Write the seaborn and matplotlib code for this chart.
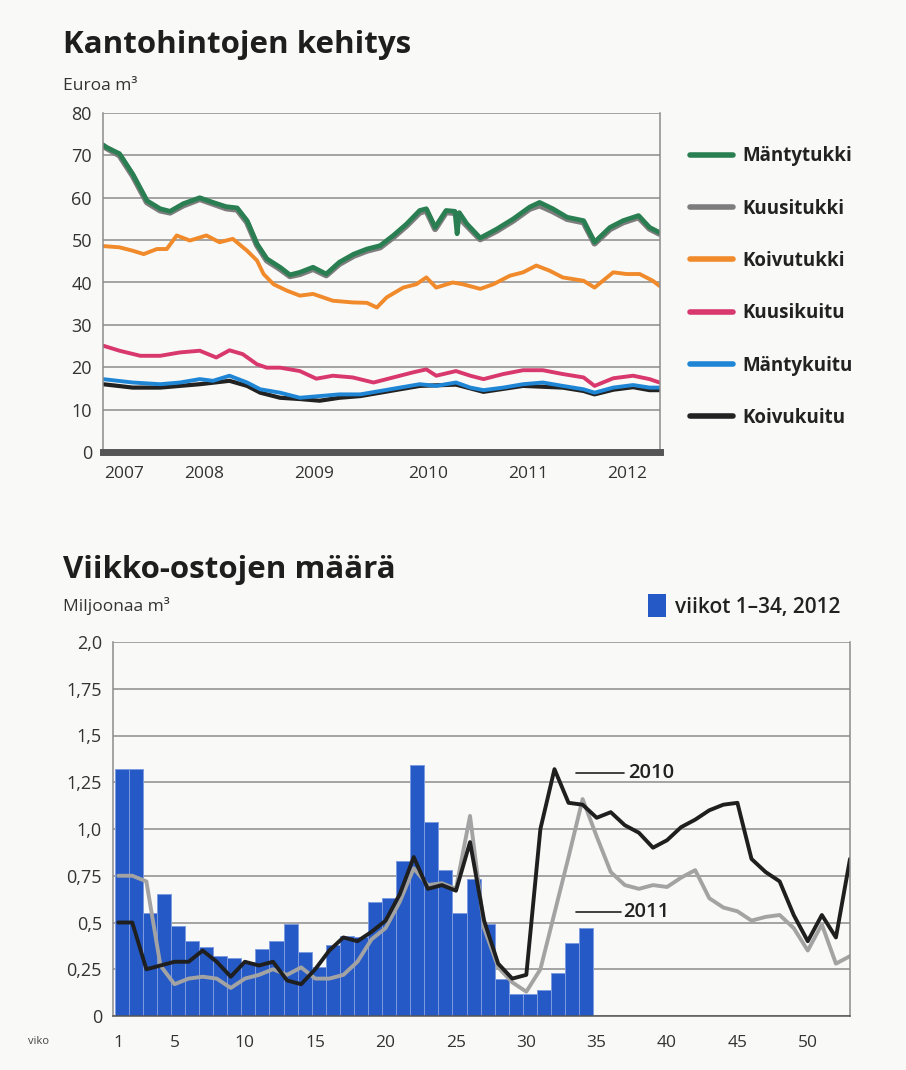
import numpy as np
import pandas as pd
import matplotlib
matplotlib.use('Agg')
import matplotlib.pyplot as plt
import seaborn as sns
from matplotlib.lines import Line2D
from matplotlib.patches import Patch

# --- Kantohintojen kehitys (euroa / m3), luettu kuvasta ---
mt_x = [2007.61, 2007.64, 2007.76, 2007.88, 2008.01, 2008.13, 2008.22, 2008.34, 2008.49, 2008.61,
        2008.73, 2008.83, 2008.92, 2009.01, 2009.10, 2009.22, 2009.31, 2009.40, 2009.52, 2009.64,
        2009.76, 2009.89, 2010.01, 2010.13, 2010.25, 2010.37, 2010.49, 2010.55, 2010.63, 2010.73,
        2010.81, 2010.83, 2010.85, 2010.92, 2011.04, 2011.19, 2011.34, 2011.49, 2011.58, 2011.70,
        2011.83, 2011.98, 2012.08, 2012.22, 2012.34, 2012.48, 2012.58, 2012.67]
mantytukki = [72.5, 71.9, 70.4, 65.6, 59.3, 57.4, 56.8, 58.6, 60.0, 58.9,
              57.9, 57.6, 54.6, 49.1, 45.6, 43.6, 41.8, 42.4, 43.6, 42.0,
              44.8, 46.7, 47.9, 48.7, 51.1, 53.8, 57.0, 57.4, 53.0, 57.0,
              56.8, 51.5, 56.5, 53.8, 50.5, 52.6, 55.0, 57.8, 58.9, 57.4,
              55.4, 54.6, 49.5, 53.0, 54.6, 55.8, 53.0, 51.8]

kt_x = [2007.61, 2007.76, 2007.88, 2008.01, 2008.13, 2008.22, 2008.34, 2008.49, 2008.61, 2008.73,
        2008.83, 2008.92, 2009.01, 2009.10, 2009.22, 2009.31, 2009.40, 2009.52, 2009.64, 2009.76,
        2009.89, 2010.01, 2010.13, 2010.25, 2010.37, 2010.49, 2010.55, 2010.63, 2010.73, 2010.81,
        2010.92, 2011.04, 2011.19, 2011.34, 2011.49, 2011.58, 2011.70, 2011.83, 2011.98, 2012.08,
        2012.22, 2012.34, 2012.48, 2012.58, 2012.67]
kuusitukki = [72.2, 70.0, 65.2, 58.9, 57.0, 56.5, 58.2, 59.7, 58.6, 57.5,
              57.2, 54.2, 48.8, 45.2, 43.2, 41.5, 42.0, 43.2, 41.7, 44.4,
              46.3, 47.5, 48.3, 50.7, 53.4, 56.5, 57.0, 52.6, 56.6, 56.4,
              53.4, 50.2, 52.2, 54.6, 57.4, 58.2, 56.8, 55.0, 54.2, 49.2,
              52.6, 54.2, 55.4, 52.7, 51.5]

ko_x = [2007.61, 2007.76, 2007.88, 2007.98, 2008.10, 2008.19, 2008.28, 2008.40, 2008.55, 2008.67,
        2008.79, 2008.92, 2009.01, 2009.07, 2009.16, 2009.28, 2009.40, 2009.52, 2009.70, 2009.88,
        2010.01, 2010.10, 2010.19, 2010.34, 2010.46, 2010.55, 2010.64, 2010.79, 2010.88, 2011.04,
        2011.16, 2011.31, 2011.43, 2011.55, 2011.67, 2011.79, 2011.98, 2012.08, 2012.25, 2012.37,
        2012.49, 2012.61, 2012.67]
koivutukki = [48.6, 48.3, 47.5, 46.7, 47.9, 47.9, 51.1, 49.9, 51.1, 49.5,
              50.3, 47.5, 45.2, 42.0, 39.6, 38.1, 36.9, 37.3, 35.7, 35.3,
              35.2, 34.1, 36.5, 38.8, 39.6, 41.2, 38.8, 40.0, 39.6, 38.5,
              39.6, 41.6, 42.4, 44.0, 42.8, 41.2, 40.4, 38.8, 42.4, 42.0,
              42.0, 40.4, 39.2]

kk_x = [2007.61, 2007.76, 2007.95, 2008.13, 2008.31, 2008.49, 2008.64, 2008.76, 2008.88, 2009.01,
        2009.10, 2009.22, 2009.40, 2009.55, 2009.70, 2009.88, 2010.07, 2010.25, 2010.43, 2010.55,
        2010.64, 2010.82, 2010.95, 2011.07, 2011.25, 2011.43, 2011.61, 2011.79, 2011.98, 2012.08,
        2012.25, 2012.43, 2012.58, 2012.67]
kuusikuitu = [25.1, 23.9, 22.7, 22.7, 23.5, 23.9, 22.3, 24.0, 23.1, 20.7,
              19.9, 19.9, 19.1, 17.3, 18.0, 17.6, 16.4, 17.6, 18.8, 19.5,
              18.0, 19.1, 18.0, 17.2, 18.4, 19.3, 19.3, 18.4, 17.6, 15.6,
              17.4, 18.0, 17.2, 16.4]

mk_x = [2007.61, 2007.88, 2008.13, 2008.31, 2008.49, 2008.61, 2008.76, 2008.92, 2009.04, 2009.22,
        2009.40, 2009.58, 2009.76, 2009.95, 2010.13, 2010.31, 2010.49, 2010.64, 2010.82, 2010.95,
        2011.07, 2011.25, 2011.43, 2011.61, 2011.79, 2011.98, 2012.08, 2012.25, 2012.43, 2012.58,
        2012.67]
mantykuitu = [17.2, 16.4, 16.0, 16.4, 17.2, 16.8, 18.0, 16.4, 14.8, 14.0,
              12.8, 13.2, 13.6, 13.6, 14.4, 15.2, 16.0, 15.6, 16.4, 15.2,
              14.6, 15.2, 16.0, 16.4, 15.6, 14.8, 14.0, 15.2, 15.8, 15.2,
              15.2]

kv_x = [2007.61, 2007.88, 2008.13, 2008.49, 2008.76, 2008.92, 2009.04, 2009.22, 2009.40, 2009.58,
        2009.76, 2009.95, 2010.13, 2010.31, 2010.49, 2010.82, 2011.07, 2011.43, 2011.79, 2011.98,
        2012.08, 2012.25, 2012.43, 2012.58, 2012.67]
koivukuitu = [16.0, 15.2, 15.2, 16.0, 16.8, 15.6, 14.0, 12.8, 12.5, 12.1,
              12.8, 13.2, 14.0, 14.8, 15.6, 15.9, 14.2, 15.6, 15.2, 14.4,
              13.6, 14.7, 15.3, 14.6, 14.6]

# --- Viikko-ostojen maara (milj. m3) ---
viikot_2012 = list(range(1, 35))
ostot_2012 = [1.32, 1.32, 0.55, 0.65, 0.48, 0.40, 0.37, 0.32, 0.31, 0.29,
              0.36, 0.40, 0.49, 0.34, 0.26, 0.38, 0.43, 0.42, 0.61, 0.63,
              0.83, 1.34, 1.04, 0.78, 0.55, 0.73, 0.49, 0.20, 0.12, 0.12,
              0.14, 0.23, 0.39, 0.47]
viikot = list(range(1, 54))
ostot_2010 = [0.50, 0.50, 0.25, 0.27, 0.29, 0.29, 0.35, 0.29, 0.21, 0.29,
              0.27, 0.29, 0.19, 0.17, 0.25, 0.35, 0.42, 0.40, 0.45, 0.51,
              0.65, 0.85, 0.68, 0.70, 0.67, 0.93, 0.51, 0.28, 0.20, 0.22,
              1.00, 1.32, 1.14, 1.13, 1.06, 1.09, 1.02, 0.98, 0.90, 0.94,
              1.01, 1.05, 1.10, 1.13, 1.14, 0.84, 0.77, 0.72, 0.54, 0.40,
              0.54, 0.42, 0.84]
ostot_2011 = [0.75, 0.75, 0.72, 0.27, 0.17, 0.20, 0.21, 0.20, 0.15, 0.20,
              0.22, 0.25, 0.22, 0.26, 0.20, 0.20, 0.22, 0.29, 0.41, 0.47,
              0.61, 0.79, 0.70, 0.71, 0.68, 1.07, 0.47, 0.26, 0.18, 0.13,
              0.25, 0.55, 0.85, 1.16, 0.96, 0.77, 0.70, 0.68, 0.70, 0.69,
              0.74, 0.78, 0.63, 0.58, 0.56, 0.51, 0.53, 0.54, 0.47, 0.35,
              0.49, 0.28, 0.32]

y1_ticks = [0, 10, 20, 30, 40, 50, 60, 70, 80]
y2_ticks = [0, 0.25, 0.5, 0.75, 1.0, 1.25, 1.5, 1.75, 2.0]
y2_labels = ['0', '0,25', '0,5', '0,75', '1,0', '1,25', '1,5', '1,75', '2,0']
x2_ticks = [1, 5, 10, 15, 20, 25, 30, 35, 40, 45, 50]
vuodet = ['2007', '2008', '2009', '2010', '2011', '2012']

sns.set_theme(style='white')
plt.rcParams['font.family'] = ['Open Sans', 'DejaVu Sans']

bg = '#f9f9f7'
grid_c = '#8c8c8c'
fig = plt.figure(figsize=(9.06, 10.7), dpi=100, facecolor=bg)

# ---------------- top chart ----------------
ax1 = fig.add_axes([103 / 906, 1 - 452 / 1070, 557 / 906, 339 / 1070], facecolor=bg)

series = [
    ('Kuusitukki', kt_x, kuusitukki, '#7d7d7d', 4.4),
    ('Mäntytukki', mt_x, mantytukki, '#2a7f52', 3.4),
    ('Koivutukki', ko_x, koivutukki, '#f08a2a', 2.8),
    ('Kuusikuitu', kk_x, kuusikuitu, '#d8386e', 2.8),
    ('Koivukuitu', kv_x, koivukuitu, '#222222', 3.0),
    ('Mäntykuitu', mk_x, mantykuitu, '#1f86d6', 2.8),
]
df = pd.concat([pd.DataFrame({'vuosi': xs, 'hinta': ys, 'laji': name})
                for name, xs, ys, c, lw in series])
colors = {}
for name, xs, ys, c, lw in series:
    colors[name] = c
    sns.lineplot(data=df[df['laji'] == name], x='vuosi', y='hinta', color=c,
                 linewidth=lw, ax=ax1, legend=False, solid_capstyle='round')

ax1.set_xlim(2007.61, 2012.675)
ax1.set_ylim(0, 80)
ax1.set_yticks(y1_ticks)
ax1.yaxis.grid(True, color=grid_c, linewidth=1.1)
ax1.set_axisbelow(True)
ax1.set_xticks([2008, 2009, 2010, 2011, 2012])
ax1.set_xticklabels([])
ax1.set_xticks([2007.8, 2008.53, 2009.53, 2010.57, 2011.48, 2012.38], minor=True)
ax1.set_xticklabels(vuodet, minor=True)
ax1.tick_params(axis='x', which='major', direction='out', length=7, width=1.3, color='#555555')
ax1.tick_params(axis='x', which='minor', length=0, pad=10, labelsize=12.5, labelcolor='#333333')
ax1.tick_params(axis='y', length=0, pad=8, labelsize=13, labelcolor='#333333')
ax1.set_xlabel('')
ax1.set_ylabel('')
for s in ['left', 'right', 'top']:
    ax1.spines[s].set_color(grid_c)
    ax1.spines[s].set_linewidth(1.1)
ax1.spines['top'].set_visible(False)
ax1.spines['bottom'].set_color('#555555')
ax1.spines['bottom'].set_linewidth(5)

legend_order = ['Mäntytukki', 'Kuusitukki', 'Koivutukki', 'Kuusikuitu', 'Mäntykuitu', 'Koivukuitu']
handles = [Line2D([0], [0], color=colors[n], linewidth=4) for n in legend_order]
fig.legend(handles, legend_order, loc='upper left', bbox_to_anchor=(682 / 906, 1 - 139 / 1070),
           frameon=False, borderaxespad=0, handlelength=2.3, handletextpad=0.5, labelspacing=1.72,
           prop={'size': 13.5, 'weight': 'bold'}, labelcolor='#222222')

fig.text(63 / 906, 1 - 45 / 1070, 'Kantohintojen kehitys', fontsize=22.5, fontweight='bold',
         color='#1e1e1e', va='center', ha='left')
fig.text(63 / 906, 1 - 86 / 1070, 'Euroa m³', fontsize=12.5, color='#333333', va='center', ha='left')

# ---------------- bottom chart ----------------
ax2 = fig.add_axes([113 / 906, 1 - 1016 / 1070, 737 / 906, 374 / 1070], facecolor=bg)

bar_df = pd.DataFrame({'viikko': np.array(viikot_2012) + 0.25, 'ostot': ostot_2012})
sns.barplot(data=bar_df, x='viikko', y='ostot', native_scale=True, width=1.0,
            color='#2459c6', saturation=1, edgecolor='#7e9be0', linewidth=0.7, ax=ax2)

line_df = pd.concat([pd.DataFrame({'viikko': viikot, 'ostot': ostot_2011, 'vuosi': '2011'}),
                     pd.DataFrame({'viikko': viikot, 'ostot': ostot_2010, 'vuosi': '2010'})])
sns.lineplot(data=line_df, x='viikko', y='ostot', hue='vuosi',
             palette={'2011': '#a3a3a3', '2010': '#1f1f1f'}, hue_order=['2011', '2010'],
             linewidth=2.8, legend=False, ax=ax2)

ax2.set_xlim(0.63, 53.0)
ax2.set_ylim(0, 2.0)
ax2.set_yticks(y2_ticks)
ax2.set_yticklabels(y2_labels)
ax2.yaxis.grid(True, color=grid_c, linewidth=1.1)
ax2.set_axisbelow(True)
ax2.set_xticks(x2_ticks)
ax2.set_xticks(list(range(36, 53)), minor=True)
ax2.tick_params(axis='x', which='major', length=0, pad=14, labelsize=12.5, labelcolor='#333333')
ax2.tick_params(axis='x', which='minor', direction='in', length=5, width=1, color='#555555')
ax2.tick_params(axis='y', length=0, pad=8, labelsize=13, labelcolor='#333333')
ax2.set_xlabel('')
ax2.set_ylabel('')
for s in ['left', 'right', 'top', 'bottom']:
    ax2.spines[s].set_color(grid_c)
    ax2.spines[s].set_linewidth(1.1)
ax2.spines['top'].set_visible(False)
ax2.spines['bottom'].set_color('#555555')

# year labels with leader lines
ax2.plot([33.55, 36.95], [1.30, 1.30], color='#222222', linewidth=1.2)
ax2.text(37.2, 1.30, '2010', fontsize=14.5, fontweight='semibold', color='#222222', va='center')
ax2.plot([33.55, 36.7], [0.555, 0.555], color='#222222', linewidth=1.2)
ax2.text(36.9, 0.555, '2011', fontsize=14.5, fontweight='semibold', color='#222222', va='center')

fig.text(38 / 906, 1 - 1042 / 1070, 'viko', fontsize=8, color='#444444', va='center', ha='center')
fig.text(63 / 906, 1 - 570 / 1070, 'Viikko-ostojen määrä', fontsize=22.5, fontweight='bold',
         color='#1e1e1e', va='center', ha='left')
fig.text(63 / 906, 1 - 606 / 1070, 'Miljoonaa m³', fontsize=12.5, color='#333333', va='center', ha='left')
fig.legend([Patch(facecolor='#2459c6', edgecolor='none')], ['viikot 1–34, 2012'],
           loc='center left', bbox_to_anchor=(640 / 906, 1 - 606 / 1070), frameon=False,
           borderaxespad=0, handlelength=0.85, handleheight=1.25, handletextpad=0.45,
           prop={'size': 15, 'weight': 'semibold'}, labelcolor='#222222')

fig.savefig('out.png', dpi=100, facecolor=bg)
